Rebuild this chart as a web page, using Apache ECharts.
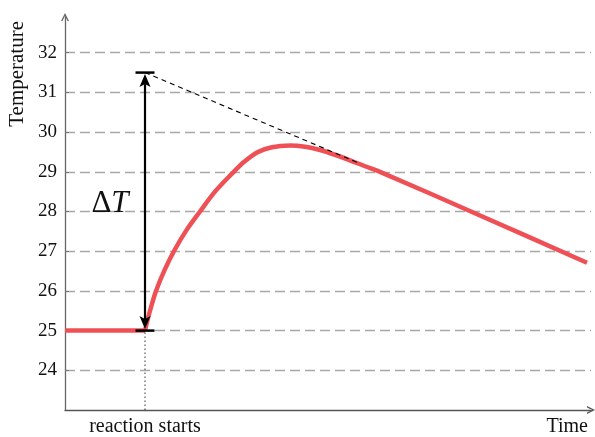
<!DOCTYPE html>
<html><head><meta charset="utf-8">
<script src="https://cdn.jsdelivr.net/npm/echarts@6/dist/echarts.min.js"></script>
<style>html,body{margin:0;padding:0;background:#fff}#c{width:595px;height:437px}</style>
</head><body><div id="c"></div>
<script>
// ---- data ----
const yTicks = [24, 25, 26, 27, 28, 29, 30, 31, 32];
const baseline = [[0, 25], [1, 25]];
const reaction = [
  [1.0, 25], [1.0625, 25.5], [1.1375, 26], [1.25, 26.55], [1.375, 27.05],
  [1.525, 27.55], [1.6875, 28], [1.875, 28.5], [2.1, 28.98], [2.225, 29.23],
  [2.4125, 29.5], [2.5875, 29.62], [2.8125, 29.66], [3.0, 29.63], [3.1875, 29.55],
  [3.375, 29.43], [3.5625, 29.29], [3.75, 29.14], [3.9375, 29.0], [5.1875, 27.9],
  [6.525, 26.71]
];
const reactionStart = 1;
const startTemp = 25;
const extrapolatedTemp = 31.5;
const tangentLine = [[1, 31.5], [3.6875, 29.21]];
const deltaLabelY = 28.2;
const xTickLabel = 'reaction starts';
const xName = 'Time';
const yName = 'Temperature';
const deltaLabel = 'ΔT';

const FONT = 'Liberation Serif';
const RED = '#ef5055';
const chart = echarts.init(document.getElementById('c'));
const chev = 'path://M0,10 L5,0 L10,10 L8.2,10 L5,3.6 L1.8,10 Z';

chart.setOption({
  animation: false,
  backgroundColor: '#fff',
  grid: { left: 65, right: 4, top: 17, bottom: 24.5 },
  xAxis: {
    type: 'value', min: 0, max: 6.575,
    axisLine: { show: true, symbol: ['none', chev], symbolSize: [11, 8], lineStyle: { color: '#555', width: 1.3 } },
    axisTick: { show: false },
    splitLine: { show: false },
    axisLabel: { customValues: [reactionStart], formatter: () => xTickLabel, fontFamily: FONT, fontSize: 20, color: '#111', margin: 7 },
    name: xName, nameLocation: 'end', nameGap: -3,
    nameTextStyle: { fontFamily: FONT, fontSize: 20, color: '#111', align: 'right', verticalAlign: 'top', padding: [7, 0, 0, 0] }
  },
  yAxis: {
    type: 'value', min: 23, max: 32.9,
    axisLine: { show: true, symbol: ['none', chev], symbolSize: [11, 8], lineStyle: { color: '#666', width: 1.3 } },
    axisTick: { show: true, inside: true, length: 4, customValues: yTicks, lineStyle: { color: '#777' } },
    axisLabel: { customValues: yTicks, fontFamily: FONT, fontSize: 19, color: '#111', margin: 8 },
    splitLine: { show: true, lineStyle: { type: [10, 5], color: '#a8a8a8', width: 1.3 } },
    name: yName, nameLocation: 'end', nameRotate: 90, nameGap: -4,
    nameTextStyle: { fontFamily: FONT, fontSize: 21, color: '#111', align: 'right', verticalAlign: 'bottom', padding: [0, 0, 37, 0] }
  },
  series: [
    { type: 'line', data: baseline, showSymbol: false, lineStyle: { color: RED, width: 4.5 }, z: 2 },
    { type: 'line', data: reaction, showSymbol: false, smooth: 0.3, lineStyle: { color: RED, width: 4.5 }, z: 2 },
    {
      type: 'custom', data: [[reactionStart, startTemp]], z: 5, silent: true,
      renderItem: (params, api) => {
        const pBot = api.coord([reactionStart, startTemp]);
        const pTop = api.coord([reactionStart, extrapolatedTemp]);
        const pAxis = api.coord([reactionStart, 23]);
        const t0 = api.coord(tangentLine[0]);
        const t1 = api.coord(tangentLine[1]);
        const mid = api.coord([reactionStart, deltaLabelY]);
        const x = pBot[0];
        const ah = 13, aw = 5.5, bw = 9.5;
        const tTop = pTop[1] + 1.5, tBot = pBot[1] - 1.5;
        return {
          type: 'group', children: [
            { type: 'line', shape: { x1: x, y1: pBot[1] + 2, x2: x, y2: pAxis[1] }, style: { stroke: '#000', lineWidth: 1, lineDash: [1.2, 2.8] } },
            { type: 'line', shape: { x1: t0[0], y1: t0[1], x2: t1[0], y2: t1[1] }, style: { stroke: '#000', lineWidth: 1.1, lineDash: [5, 4] } },
            { type: 'line', shape: { x1: x, y1: tTop + ah - 3, x2: x, y2: tBot - ah + 3 }, style: { stroke: '#000', lineWidth: 2.2 } },
            { type: 'polygon', shape: { points: [[x, tTop], [x - aw, tTop + ah], [x, tTop + ah - 3], [x + aw, tTop + ah]] }, style: { fill: '#000' } },
            { type: 'polygon', shape: { points: [[x, tBot], [x - aw, tBot - ah], [x, tBot - ah + 3], [x + aw, tBot - ah]] }, style: { fill: '#000' } },
            { type: 'line', shape: { x1: x - bw, y1: pTop[1], x2: x + bw, y2: pTop[1] }, style: { stroke: '#000', lineWidth: 2.5 } },
            { type: 'line', shape: { x1: x - bw, y1: pBot[1], x2: x + bw, y2: pBot[1] }, style: { stroke: '#000', lineWidth: 2.5 } },
            { type: 'text', x: mid[0] - 35, y: mid[1], style: {
                text: '{d|' + deltaLabel[0] + '}{t|' + deltaLabel.slice(1) + '}',
                align: 'center', verticalAlign: 'middle',
                rich: {
                  d: { fontFamily: FONT, fontSize: 31, fill: '#111', color: '#111' },
                  t: { fontFamily: FONT, fontSize: 31, fontStyle: 'italic', fill: '#111', color: '#111' }
                }
              } }
          ]
        };
      }
    }
  ]
});
</script></body></html>
